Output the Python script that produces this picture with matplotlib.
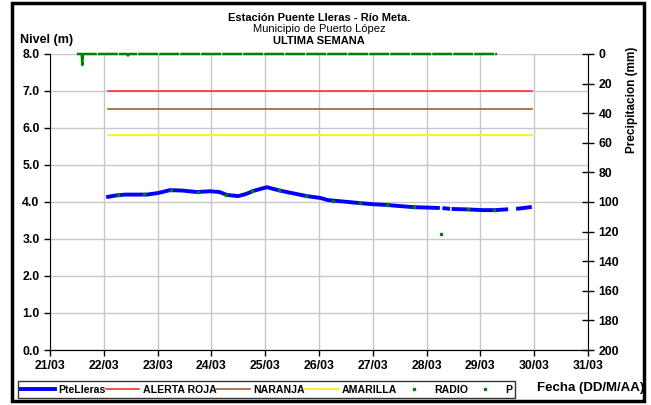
import numpy as np
import matplotlib
matplotlib.use('Agg')
import matplotlib.pyplot as plt
from matplotlib.patches import Rectangle

plt.rcParams['font.family'] = ['Liberation Sans', 'DejaVu Sans']

# days counted from 21/03 00:00
date_labels = ['21/03', '22/03', '23/03', '24/03', '25/03', '26/03',
               '27/03', '28/03', '29/03', '30/03', '31/03']

nan = np.nan
nivel_t = [1.08, 1.24, 1.40, 1.55, 1.80, 2.00, 2.23, 2.45, 2.73, 2.97, 3.15,
           3.29, 3.50, 3.65, 3.78, 4.03, 4.27, 4.50, 4.77, 5.02, 5.17, 5.40,
           5.76, 6.00, 6.26, 6.50, 6.77, 7.00, 7.21, 7.25, 7.33, 7.40, 7.44,
           7.50, 7.75, 8.05, 8.27, 8.48, 8.52, 8.70, 8.92]
nivel_m = [4.14, 4.18, 4.20, 4.20, 4.20, 4.24, 4.32, 4.31, 4.27, 4.29, 4.27,
           4.19, 4.16, 4.22, 4.30, 4.40, 4.31, 4.24, 4.16, 4.11, 4.05, 4.02,
           3.97, 3.94, 3.92, 3.89, 3.86, 3.85, 3.84, nan, 3.83, 3.82, nan,
           3.81, 3.80, 3.78, 3.78, 3.80, nan, 3.82, 3.86]

radio_t = [1.26, 1.75, 2.25, 2.76, 3.27, 3.76, 4.26, 4.76, 5.26, 5.76,
           6.26, 6.77, 7.27, 7.77, 8.25]
radio_m = [4.19, 4.21, 4.32, 4.27, 4.20, 4.30, 4.32, 4.15, 4.04, 3.97,
           3.92, 3.86, 3.14, 3.80, 3.79]

p_t = [0.50, 0.59, 0.60, 0.61, 1.43, 1.45, 1.47, 8.31]
p_mm = [0, 0, 7.5, 0, 0, 1.0, 0, 0]

umbral_t = [1.08, 8.96]
alerta_roja = 7.0
naranja = 6.5
amarilla = 5.8

fig = plt.figure(figsize=(6.51, 4.05), dpi=100)
ax = fig.add_axes([0.0768, 0.1358, 0.8264, 0.7309])
ax2 = ax.twinx()

ax.plot(nivel_t, nivel_m, color='#0000FF', lw=2.8, label='PteLleras', zorder=3)
ax.plot(umbral_t, [alerta_roja] * 2, color='#FF3030', lw=1.2, label='ALERTA ROJA')
ax.plot(umbral_t, [naranja] * 2, color='#A0603A', lw=1.2, label='NARANJA')
ax.plot(umbral_t, [amarilla] * 2, color='#FFEE00', lw=1.2, label='AMARILLA')
ax.plot(radio_t, radio_m, ls='none', marker='s', ms=2, color='#008000',
        label='RADIO', zorder=4)
ax2.plot(p_t, p_mm, color='#008000', lw=1.8, ls=(0, (8, 0.4)), zorder=4,
         clip_on=False)
ax.plot([], [], ls='none', marker='s', ms=2, color='#008000', label='P')

ax.set_xlim(0, 10)
ax.set_ylim(0, 8)
ax2.set_ylim(200, 0)
ax.set_xticks(range(11))
ax.set_xticklabels(date_labels)
ax.set_yticks(np.arange(0, 8.1, 1))
ax.set_yticklabels(['%.1f' % v for v in np.arange(0, 8.1, 1)])
ax2.set_yticks(range(0, 201, 20))

ax.grid(True, color='#C8C8C8', lw=1)
ax.set_axisbelow(True)
ax.spines['top'].set_visible(False)
ax2.spines['top'].set_visible(False)
ax2.spines['left'].set_visible(False)
ax.spines['right'].set_visible(False)

ax.tick_params(axis='both', labelsize=8.8, length=4, width=1, direction='out')
for lab in ax.get_xticklabels() + ax.get_yticklabels():
    lab.set_fontweight('bold')
ax2.tick_params(axis='y', labelsize=8.8, length=8, width=1, direction='inout')
for lab in ax2.get_yticklabels():
    lab.set_fontweight('bold')

fig.text(0.49, 0.955, 'Estación Puente Lleras - Río Meta.', ha='center',
         va='center', fontsize=8, fontweight='bold')
fig.text(0.49, 0.928, 'Municipio de Puerto López', ha='center',
         va='center', fontsize=8)
fig.text(0.49, 0.900, 'ULTIMA SEMANA', ha='center', va='center',
         fontsize=8, fontweight='bold')
fig.text(0.03, 0.9, 'Nivel (m)', ha='left', va='center', fontsize=9,
         fontweight='bold')
fig.text(0.971, 0.753, 'Precipitacion (mm)', ha='center', va='center',
         rotation=90, fontsize=8.5, fontweight='bold')
fig.text(0.99, 0.043, 'Fecha (DD/M/AA)', ha='right', va='center',
         fontsize=9.5, fontweight='bold')

leg = fig.legend(loc='lower left', bbox_to_anchor=(0.028, 0.018, 0.763, 0.05),
                 mode='expand', ncol=6, fontsize=7.6, frameon=True, fancybox=False,
                 handlelength=3.2, handletextpad=0.3, borderpad=0.3,
                 columnspacing=0.8, borderaxespad=0)
leg.get_frame().set_edgecolor('black')
leg.get_frame().set_linewidth(1)
for t in leg.get_texts():
    t.set_fontweight('bold')

fig.patches.append(Rectangle((0.018, 0.01), 0.972, 0.982, fill=False,
                             lw=2.5, edgecolor='black',
                             transform=fig.transFigure))

fig.savefig('out.png', dpi=100)
